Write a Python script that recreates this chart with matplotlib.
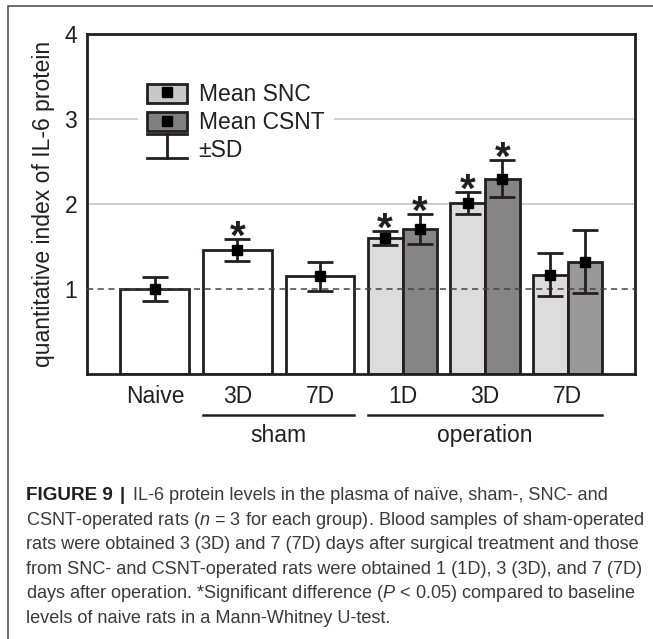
import numpy as np
import matplotlib
matplotlib.use("Agg")
import matplotlib.pyplot as plt
from matplotlib.lines import Line2D
from matplotlib.patches import Patch
from matplotlib.legend_handler import HandlerTuple
from matplotlib import font_manager

# datos
grupos = ["Naive", "3D", "7D", "1D", "3D", "7D"]
simple_media = [1.00, 1.46, 1.15]      # Naive, sham 3D, sham 7D
simple_sd = [0.14, 0.13, 0.17]
snc_media = [1.60, 2.01, 1.17]         # operation 1D, 3D, 7D
snc_sd = [0.085, 0.13, 0.25]
csnt_media = [1.71, 2.30, 1.32]
csnt_sd = [0.175, 0.22, 0.37]
simple_sig = [False, True, False]
snc_sig = [True, True, False]
csnt_sig = [True, True, False]

leyenda = ["Mean SNC", "Mean CSNT", "\u00b1SD"]
ylabel = "quantitative index of IL-6 protein"

caption = [
    "IL-6 protein levels in the plasma of na\u00efve, sham-, SNC- and",
    "CSNT-operated rats ($n$ = 3 for each group). Blood samples of sham-operated",
    "rats were obtained 3 (3D) and 7 (7D) days after surgical treatment and those",
    "from SNC- and CSNT-operated rats were obtained 1 (1D), 3 (3D), and 7 (7D)",
    "days after operation. *Significant difference ($P$ < 0.05) compared to baseline",
    "levels of naive rats in a Mann-Whitney U-test.",
]

nombres = {f.name for f in font_manager.fontManager.ttflist}
cap_font = "Liberation Sans Narrow" if "Liberation Sans Narrow" in nombres else "Liberation Sans"

plt.rcParams["font.family"] = ["Liberation Sans", "DejaVu Sans"]
plt.rcParams["mathtext.fontset"] = "custom"
plt.rcParams["mathtext.it"] = cap_font + ":italic"
plt.rcParams["mathtext.rm"] = cap_font

borde = "#231f20"
fs = 16.5

fig = plt.figure(figsize=(6.53, 6.39), dpi=100)
ax = fig.add_axes([87 / 653, 1 - 374 / 639, 548 / 653, 340 / 639])

x_simple = np.array([0, 1, 2])
x_op = np.array([3, 4, 5])
w1 = 0.835
w2 = 0.42

# lineas de referencia
for yv in [2, 3]:
    ax.axhline(yv, color="#c0c0c0", lw=1.1, zorder=0)
ax.axhline(1, color="#444444", lw=1.1, ls=(0, (4, 3)), zorder=3)

ax.bar(x_simple, simple_media, w1, color="white", edgecolor=borde, lw=2, zorder=2)
ax.bar(x_op - w2 / 2, snc_media, w2, color="#dcdcdc", edgecolor=borde, lw=2, zorder=2)
ax.bar(x_op + w2 / 2, csnt_media, w2, color=["#858585", "#858585", "#999999"],
       edgecolor=borde, lw=2, zorder=2)

def barras_error(xs, medias, sds, sigs):
    ax.errorbar(xs, medias, yerr=sds, fmt="s", ms=6.5, mfc="black", mec="black",
                ecolor=borde, elinewidth=2, capsize=9.6, capthick=2, zorder=4)
    for x, m, s, sig in zip(xs, medias, sds, sigs):
        if sig:
            ax.annotate("*", xy=(x, m + s), xytext=(0, -7), textcoords="offset points",
                        ha="center", va="baseline", fontsize=29, fontweight="bold",
                        color=borde)

barras_error(x_simple, simple_media, simple_sd, simple_sig)
barras_error(x_op - w2 / 2, snc_media, snc_sd, snc_sig)
barras_error(x_op + w2 / 2, csnt_media, csnt_sd, csnt_sig)

ax.set_xlim(-0.823, 5.817)
ax.set_ylim(0, 4)
ax.set_yticks([1, 2, 3, 4])
ax.set_xticks(range(6))
ax.set_xticklabels(grupos)
ax.tick_params(axis="both", length=0, labelsize=fs, colors=borde)
ax.tick_params(axis="y", pad=7)
ax.tick_params(axis="x", pad=8)
for sp in ax.spines.values():
    sp.set_linewidth(2)
    sp.set_color(borde)

ax.set_ylabel(ylabel, fontsize=fs, color=borde)
ax.yaxis.set_label_coords(-0.058, 0.5)

# grupos bajo el eje
tr = ax.get_xaxis_transform()
for x0, x1, txt in [(1 - w1 / 2, 2 + w1 / 2, "sham"), (3 - w2, 5 + w2, "operation")]:
    ax.plot([x0, x1], [-0.1206, -0.1206], color=borde, lw=1.8, transform=tr, clip_on=False)
    ax.text((x0 + x1) / 2, -0.2, txt, transform=tr, ha="center", va="baseline",
            fontsize=fs, color=borde)

# leyenda
class ManejadorSD:
    def legend_artist(self, legend, orig_handle, fontsize, handlebox):
        x0, y0 = handlebox.xdescent, handlebox.ydescent
        w, h = handlebox.width, handlebox.height
        y0 = y0 - 2
        h = h + 4
        lineas = [Line2D([x0, x0 + w], [y0, y0]),
                  Line2D([x0, x0 + w], [y0 + h, y0 + h]),
                  Line2D([x0 + w / 2, x0 + w / 2], [y0, y0 + h])]
        for l in lineas:
            l.set_color(borde)
            l.set_linewidth(2)
            handlebox.add_artist(l)
        return lineas[0]

marca = Line2D([], [], ls="none", marker="s", ms=6.5, mfc="black", mec="black")
h_snc = (Patch(facecolor="#c8c8c8", edgecolor=borde, lw=2), marca)
h_csnt = (Patch(facecolor="#808080", edgecolor=borde, lw=2), marca)
h_sd = object()
leg = ax.legend([h_snc, h_csnt, h_sd], leyenda, loc="upper left",
                bbox_to_anchor=((138 - 87) / 548, (374 - 74) / 340),
                fontsize=fs, frameon=True, fancybox=False, framealpha=1,
                edgecolor="none", facecolor="white", handlelength=1.75,
                handleheight=0.9, handletextpad=0.5, labelspacing=0.22,
                borderpad=0.4, borderaxespad=0,
                handler_map={tuple: HandlerTuple(ndivide=1), object: ManejadorSD()})
for t in leg.get_texts():
    t.set_color(borde)

# marco exterior
fig.add_artist(Line2D([7.5 / 653, 7.5 / 653, 1], [0, 1 - 5.5 / 639, 1 - 5.5 / 639],
                      color="#555555", lw=1.2, transform=fig.transFigure))

# leyenda de la figura
cap_fs = 13.1
y_base = 1 - 500 / 639
paso = 24.6 / 639
fam = [cap_font, "Liberation Sans"]
fig.text(26 / 653, y_base, "FIGURE 9", fontsize=cap_fs + 0.5, fontweight="bold",
         family=fam, color="#231f20", va="baseline")
fig.text(120 / 653, y_base, "|", fontsize=cap_fs, fontweight="bold",
         family=fam, color="#231f20", va="baseline")
for i, linea in enumerate(caption):
    x0 = 133 / 653 if i == 0 else 26 / 653
    fig.text(x0, y_base - i * paso, linea, fontsize=cap_fs, va="baseline",
             family=fam, color="#3a3a3a")

fig.savefig("out.png", dpi=100)
